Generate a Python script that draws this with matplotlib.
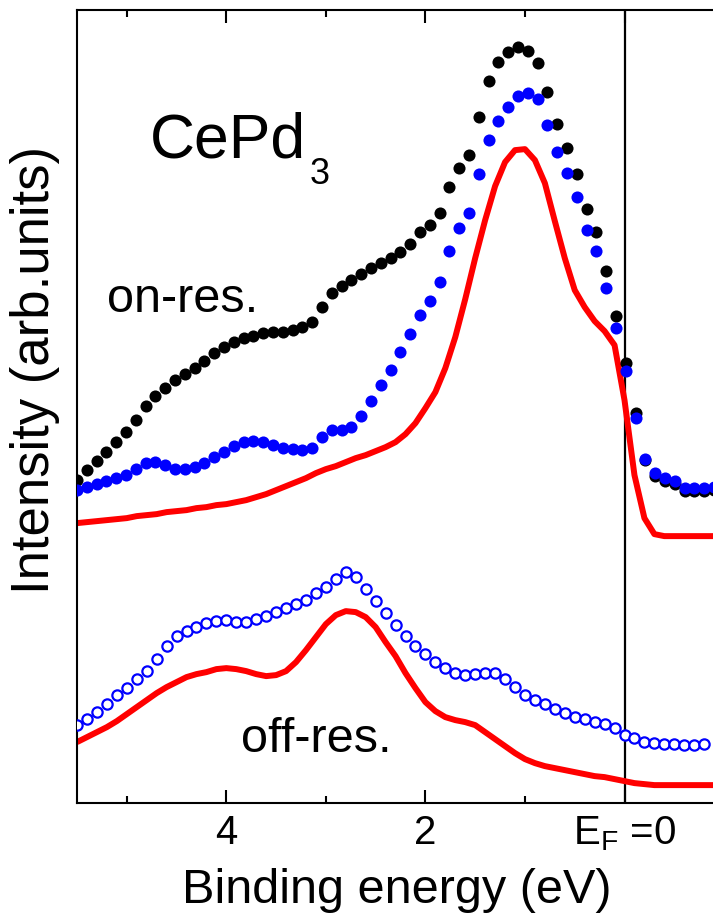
import numpy as np
import matplotlib
matplotlib.use('Agg')
import matplotlib.pyplot as plt
from matplotlib.ticker import FixedLocator

plt.rcParams['font.family'] = ['Liberation Sans', 'DejaVu Sans']
plt.rcParams['mathtext.fontset'] = 'custom'
plt.rcParams['mathtext.rm'] = 'Liberation Sans'
plt.rcParams['mathtext.it'] = 'Liberation Sans:italic'

# binding energies (eV) of the on-resonance dots and the off-resonance circles
e_on = np.linspace(5.5, -0.9, 66)
e_off = np.round(np.arange(5.5, -0.85, -0.1), 2)
# energy grid of the fitted/smoothed red curves
e_fit = np.round(np.arange(5.5, -1.05, -0.1), 2)

on_black = [3.23, 3.33, 3.42, 3.51, 3.61, 3.71, 3.83, 3.97, 4.07, 4.15,
            4.23, 4.29, 4.35, 4.42, 4.50, 4.56, 4.61, 4.65, 4.67, 4.70,
            4.71, 4.71, 4.73, 4.76, 4.81, 4.96, 5.10, 5.17, 5.23, 5.29,
            5.35, 5.40, 5.45, 5.51, 5.59, 5.71, 5.78, 5.90, 6.16, 6.35,
            6.48, 6.86, 7.22, 7.41, 7.51, 7.56, 7.52, 7.40, 7.11, 6.79,
            6.55, 6.29, 5.94, 5.71, 5.32, 4.87, 4.40, 3.90, 3.43, 3.27,
            3.22, 3.19, 3.12, 3.12, 3.12, 3.13]

on_blue = [3.13, 3.16, 3.19, 3.22, 3.25, 3.28, 3.34, 3.40, 3.41, 3.38,
           3.34, 3.34, 3.36, 3.40, 3.46, 3.51, 3.57, 3.61, 3.62, 3.61,
           3.58, 3.55, 3.54, 3.53, 3.55, 3.66, 3.73, 3.73, 3.76, 3.87,
           4.02, 4.18, 4.33, 4.51, 4.69, 4.88, 5.02, 5.21, 5.52, 5.75,
           5.90, 6.29, 6.63, 6.82, 6.96, 7.07, 7.10, 7.04, 6.78, 6.51,
           6.30, 6.06, 5.73, 5.52, 5.15, 4.75, 4.32, 3.85, 3.44, 3.30,
           3.25, 3.22, 3.15, 3.15, 3.15, 3.16]

off_blue = [0.78, 0.84, 0.91, 0.99, 1.08, 1.15, 1.24, 1.32, 1.44, 1.57,
            1.67, 1.72, 1.76, 1.80, 1.82, 1.83, 1.81, 1.81, 1.84, 1.87,
            1.91, 1.95, 1.99, 2.03, 2.10, 2.16, 2.24, 2.31, 2.26, 2.14,
            2.02, 1.90, 1.78, 1.67, 1.57, 1.49, 1.41, 1.35, 1.30, 1.28,
            1.29, 1.30, 1.30, 1.24, 1.16, 1.08, 1.03, 0.99, 0.94, 0.90,
            0.86, 0.84, 0.81, 0.79, 0.75, 0.68, 0.65, 0.61, 0.60, 0.59,
            0.59, 0.58, 0.58, 0.59]

on_red = [2.80, 2.81, 2.82, 2.83, 2.84, 2.85, 2.87, 2.88, 2.89, 2.91,
          2.92, 2.93, 2.95, 2.96, 2.98, 2.99, 3.01, 3.03, 3.06, 3.09,
          3.13, 3.17, 3.21, 3.25, 3.30, 3.34, 3.37, 3.41, 3.45, 3.48,
          3.52, 3.56, 3.61, 3.69, 3.80, 3.95, 4.11, 4.35, 4.66, 5.04,
          5.45, 5.83, 6.17, 6.41, 6.53, 6.54, 6.43, 6.20, 5.82, 5.45,
          5.13, 4.96, 4.82, 4.72, 4.58, 4.03, 3.28, 2.85, 2.69, 2.67,
          2.67, 2.67, 2.67, 2.67, 2.67, 2.67]

off_red = [0.61, 0.66, 0.71, 0.76, 0.82, 0.89, 0.96, 1.03, 1.10, 1.16,
           1.21, 1.26, 1.29, 1.31, 1.34, 1.35, 1.34, 1.32, 1.29, 1.27,
           1.28, 1.32, 1.41, 1.53, 1.66, 1.79, 1.88, 1.92, 1.91, 1.86,
           1.76, 1.61, 1.47, 1.30, 1.15, 1.01, 0.92, 0.86, 0.83, 0.81,
           0.78, 0.71, 0.64, 0.57, 0.50, 0.44, 0.40, 0.37, 0.35, 0.33,
           0.31, 0.29, 0.27, 0.26, 0.24, 0.22, 0.20, 0.19, 0.18, 0.18,
           0.18, 0.18, 0.18, 0.18, 0.18, 0.18]

major_ticks = [4, 2, 0]
major_labels = ['4', '2', r'E$_\mathregular{F}$ =0']
minor_ticks = [5, 3, 1]

fig = plt.figure(figsize=(7.13, 9.21), dpi=100)
ax = fig.add_axes([0.108, 0.128, 0.9075, 0.861])

ax.axvline(0, color='black', lw=1.6, zorder=1)
for curve in (on_red, off_red):
    ax.plot(e_fit, curve, color='#ff0000', lw=4.3, zorder=2,
            solid_joinstyle='round', solid_capstyle='butt')
ax.plot(e_on, on_black, 'o', color='black', ms=8.7, mew=0, zorder=3)
ax.plot(e_on, on_blue, 'o', color='#0000ff', ms=8.7, mew=0, zorder=4)
ax.plot(e_off, off_blue, 'o', mfc='white', mec='#0000ff', ms=7.4, mew=1.6, zorder=4)

ax.set_xlim(5.5, -1.0)
ax.set_ylim(0, 7.93)

ax.xaxis.set_major_locator(FixedLocator(major_ticks))
ax.xaxis.set_minor_locator(FixedLocator(minor_ticks))
ax.set_xticklabels(major_labels)
ax.tick_params(axis='x', which='both', direction='in', top=True, bottom=True,
               width=1.5, labelsize=29, pad=8)
ax.tick_params(axis='x', which='major', length=9.5)
ax.tick_params(axis='x', which='minor', length=5)
ax.set_yticks([])
for side in ['left', 'top', 'bottom', 'right']:
    ax.spines[side].set_linewidth(1.5)

# sample name and spectrum labels
ax.text(150 / 713, 1 - 158 / 921, 'CePd', transform=fig.transFigure,
        fontsize=45, ha='left', va='baseline')
ax.text(310 / 713, 1 - 184 / 921, '3', transform=fig.transFigure,
        fontsize=26, ha='left', va='baseline')
ax.text(107 / 713, 1 - 312 / 921, 'on-res.', transform=fig.transFigure,
        fontsize=35, ha='left', va='baseline')
ax.text(241 / 713, 1 - 752 / 921, 'off-res.', transform=fig.transFigure,
        fontsize=35, ha='left', va='baseline')

fig.text(397 / 713, 1 - 890 / 921, 'Binding energy (eV)', fontsize=35,
         ha='center', va='center')
fig.text(35 / 713, 1 - 370 / 921, 'Intensity (arb.units)', fontsize=38,
         ha='center', va='center', rotation=90)

fig.savefig('out.png', dpi=100)
